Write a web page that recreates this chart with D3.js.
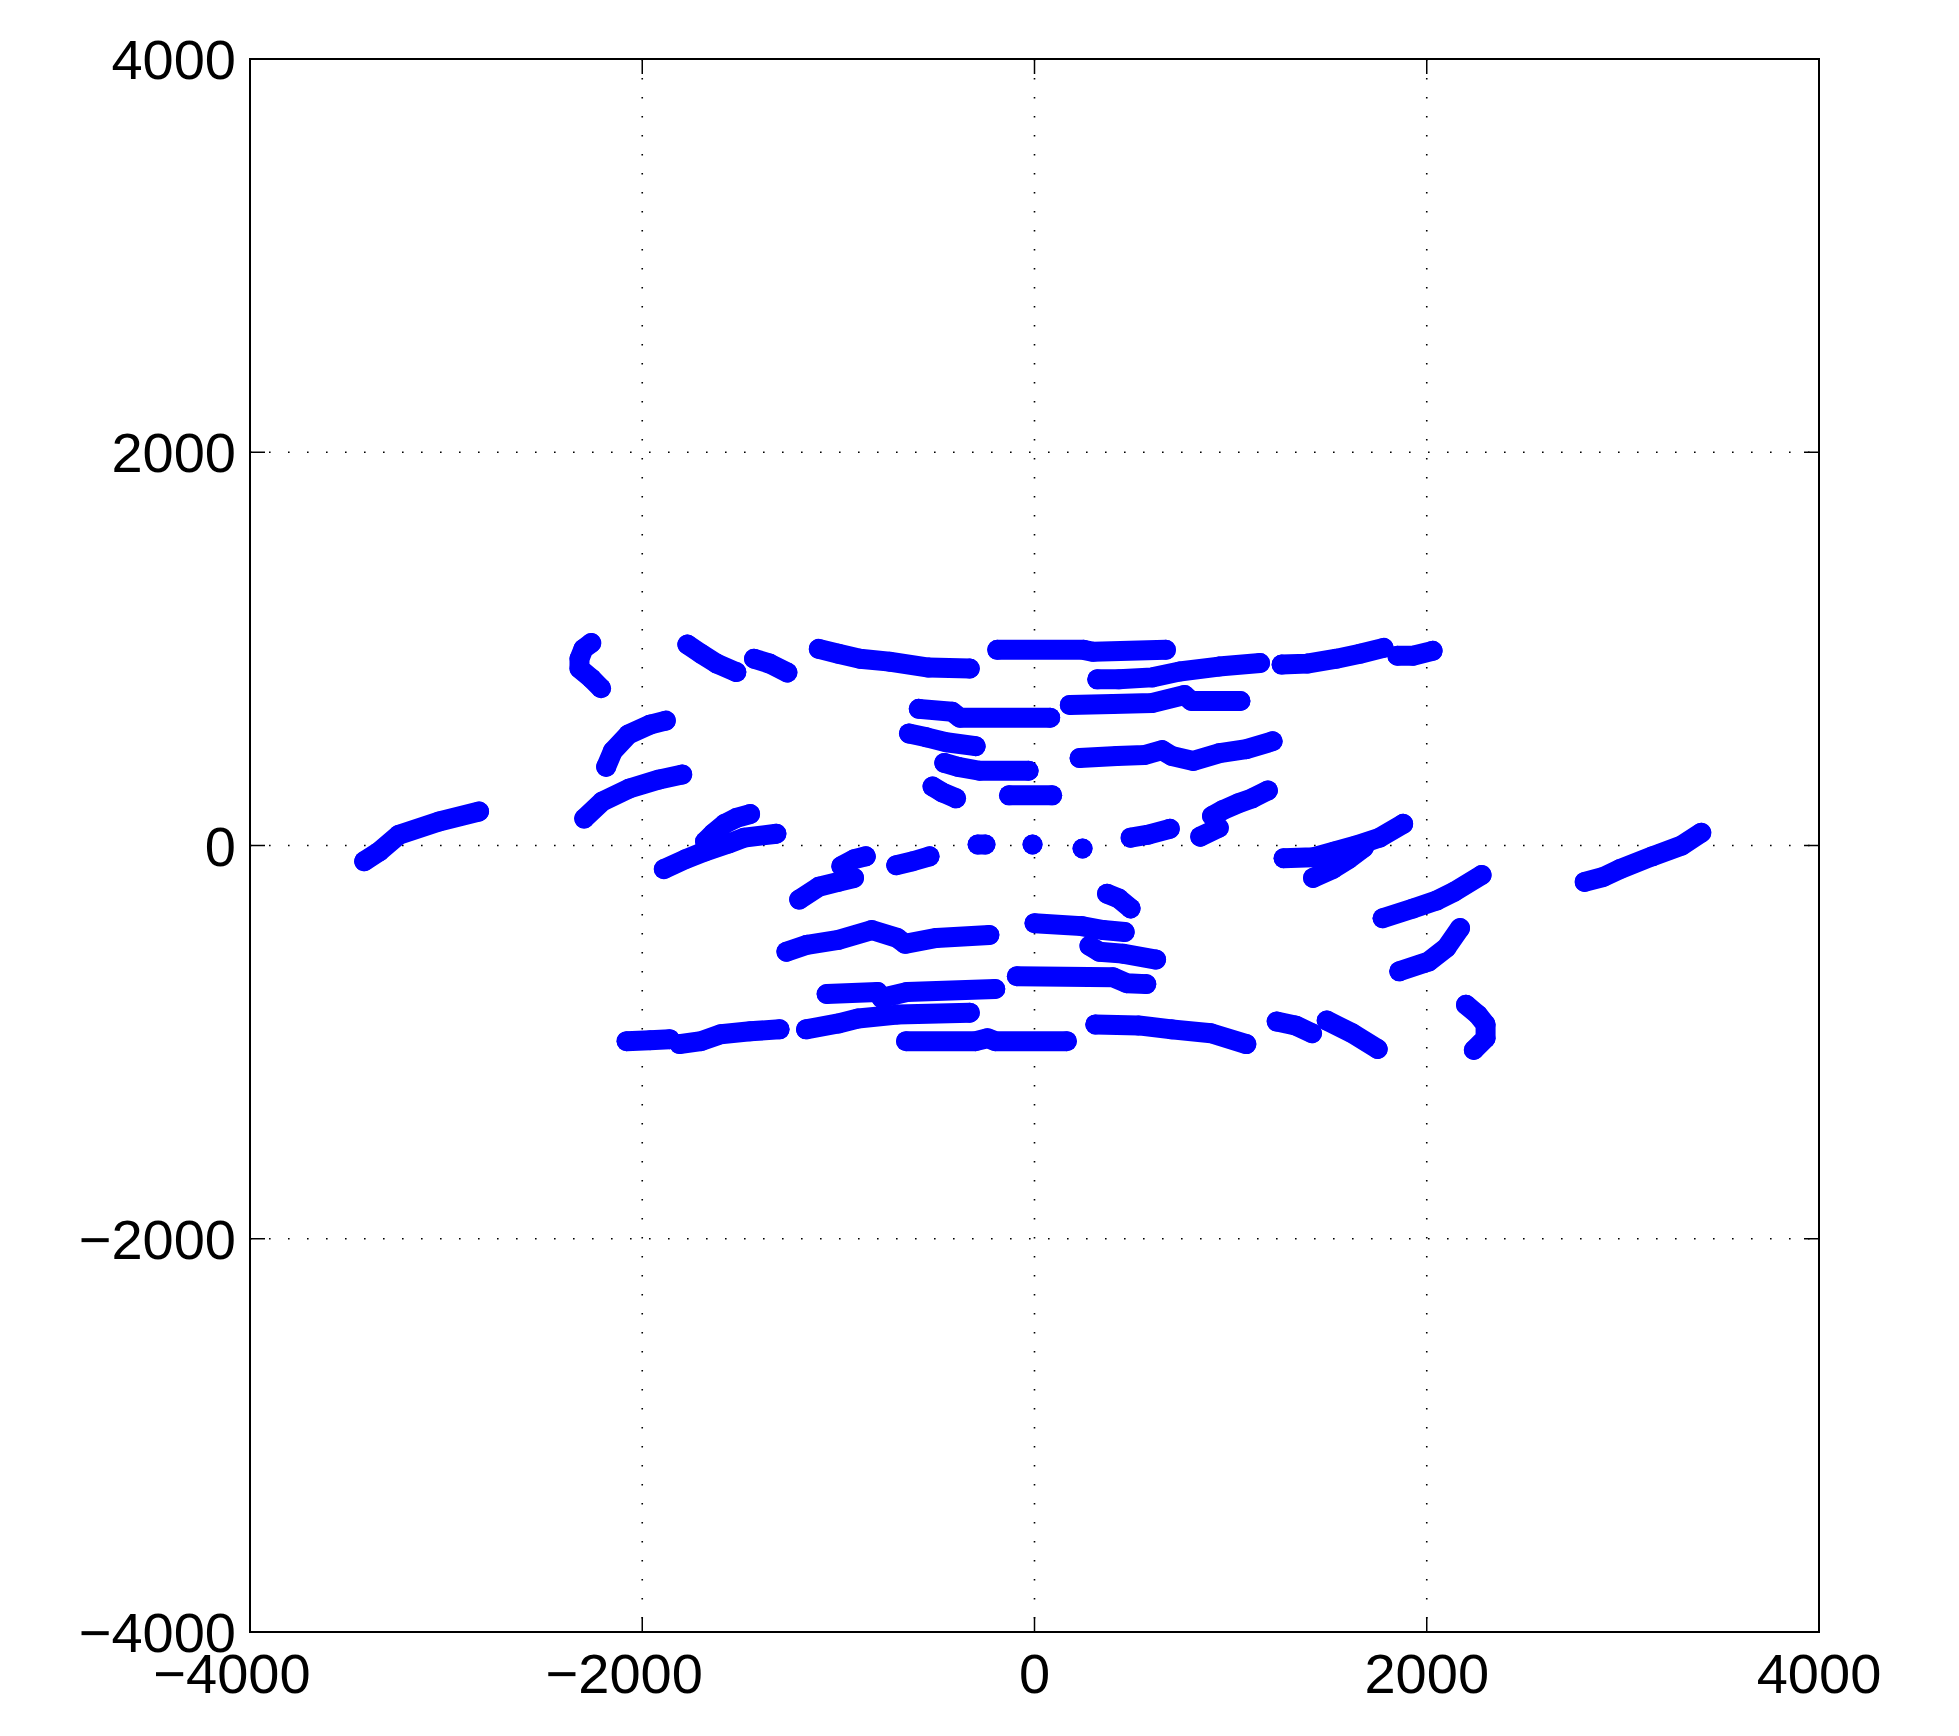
<!DOCTYPE html>
<html>
<head>
<meta charset="utf-8">
<script src="https://d3js.org/d3.v7.min.js"></script>
<style>
  body { margin: 0; background: #fff; }
  text { font-family: "Liberation Sans", Arial, Helvetica, sans-serif; }
</style>
</head>
<body>
<div id="my_dataviz"></div>
<script>

// tick values for both axes
var xTicks = [-4000, -2000, 0, 2000, 4000];
var yTicks = [-4000, -2000, 0, 2000, 4000];

// traces, each one a list of [x, y] points
var arcsLeft = [
  [[-3418, -80], [-3340, -30], [-3240, 55], [-3036, 122], [-2832, 173]],
  [[-2260, 1030], [-2300, 1000], [-2320, 950], [-2320, 900], [-2260, 850], [-2210, 800]],
  [[-2184, 400], [-2150, 480], [-2070, 565], [-1960, 615], [-1880, 635]],
  [[-2296, 137], [-2204, 224], [-2066, 290], [-1913, 336], [-1796, 361]],
  [[-1770, 1022], [-1700, 975], [-1620, 925], [-1520, 882]],
  [[-1430, 950], [-1350, 925], [-1260, 880]],
  [[-1890, -120], [-1780, -70], [-1680, -30], [-1560, 10], [-1480, 40], [-1316, 60]],
  [[-1680, 20], [-1640, 60], [-1580, 110], [-1520, 140], [-1450, 160]],
  [[-1200, -275], [-1100, -210], [-1000, -185], [-920, -165]],
  [[-985, -105], [-920, -70], [-860, -55]],
  [[-705, -100], [-620, -80], [-535, -55]]
];

var barsUpper = [
  [[-1100, 1000], [-1000, 975], [-890, 950], [-740, 935], [-540, 905], [-330, 900]],
  [[-190, 995], [250, 995], [300, 985], [670, 995]],
  [[320, 845], [430, 845], [600, 855], [740, 885], [940, 910], [1150, 928]],
  [[1260, 920], [1390, 925], [1540, 950], [1660, 975], [1780, 1005]],
  [[1850, 965], [1930, 965], [2030, 990]],
  [[-590, 695], [-420, 680], [-380, 650], [80, 650]],
  [[180, 715], [400, 720], [600, 725], [765, 765], [800, 735], [1050, 735]],
  [[-640, 570], [-550, 550], [-450, 525], [-300, 505]],
  [[-460, 420], [-390, 400], [-280, 380], [-30, 380]],
  [[230, 445], [420, 455], [560, 460], [650, 485], [700, 455], [810, 430], [944, 470], [1080, 490], [1214, 530]],
  [[-520, 300], [-470, 270], [-400, 240]],
  [[-130, 255], [90, 255]]
];

var centerDots = [
  [[-290, 5], [-250, 5]],
  [[-10, 5]],
  [[245, -15]]
];

var barsLower = [
  [[-1265, -540], [-1160, -505], [-1000, -480], [-830, -430], [-700, -470], [-660, -500], [-500, -470], [-230, -455]],
  [[-1060, -755], [-800, -745], [-780, -775], [-650, -745], [-200, -730]],
  [[-1165, -935], [-1000, -905], [-900, -880], [-700, -860], [-330, -850]],
  [[-655, -995], [-300, -995], [-240, -980], [-200, -995], [165, -995]],
  [[-2080, -995], [-1960, -990], [-1860, -985]],
  [[-1810, -1010], [-1700, -995], [-1600, -960], [-1450, -945], [-1300, -935]],
  [[0, -395], [240, -410], [350, -430], [460, -440]],
  [[-90, -665], [400, -670], [470, -700], [570, -705]],
  [[280, -510], [330, -540], [450, -550], [620, -580]],
  [[370, -245], [430, -270], [490, -320]],
  [[310, -910], [530, -915], [700, -935], [900, -955], [1080, -1010]],
  [[1235, -895], [1330, -915], [1415, -955]],
  [[1490, -890], [1620, -955], [1750, -1035]]
];

var arcsRight = [
  [[490, 40], [580, 55], [690, 85]],
  [[845, 45], [940, 90]],
  [[905, 150], [960, 180], [1040, 215], [1110, 240], [1190, 280]],
  [[1270, -65], [1420, -60], [1530, -30], [1640, 0], [1760, 40], [1880, 110]],
  [[1420, -165], [1520, -120], [1600, -70], [1680, -10]],
  [[1775, -370], [1930, -320], [2050, -280], [2140, -235], [2280, -150]],
  [[1860, -640], [2010, -590], [2100, -520], [2170, -420]],
  [[2200, -810], [2260, -860], [2300, -910], [2300, -980], [2240, -1040]],
  [[2805, -185], [2900, -160], [2985, -120], [3150, -55], [3300, 0], [3400, 65]]
];

var traces = [].concat(arcsLeft, barsUpper, centerDots, barsLower, arcsRight);

// layout
var W = 1959, H = 1736;
var margin = {top: 59, right: 140, bottom: 104, left: 250},
    width = W - margin.left - margin.right,
    height = H - margin.top - margin.bottom;
var dotR = 10;

var svg = d3.select("#my_dataviz")
  .append("svg")
    .attr("width", W)
    .attr("height", H);

var x = d3.scaleLinear().domain([-4000, 4000]).range([margin.left, margin.left + width]);
var y = d3.scaleLinear().domain([-4000, 4000]).range([margin.top + height, margin.top]);

// dotted grid
var grid = svg.append("g");
grid.selectAll("line.gx")
  .data(xTicks.slice(1, -1))
  .enter().append("line")
    .attr("x1", d => x(d)).attr("x2", d => x(d))
    .attr("y1", y(4000)).attr("y2", y(-4000))
    .attr("stroke", "#000").attr("stroke-width", 1.6)
    .attr("stroke-dasharray", "1.6,17.4");
grid.selectAll("line.gy")
  .data(yTicks.slice(1, -1))
  .enter().append("line")
    .attr("y1", d => y(d)).attr("y2", d => y(d))
    .attr("x1", x(-4000)).attr("x2", x(4000))
    .attr("stroke", "#000").attr("stroke-width", 1.6)
    .attr("stroke-dasharray", "1.6,17.4");

// the traces: dense markers drawn as thick round lines plus dots
var line = d3.line().x(d => x(d[0])).y(d => y(d[1]));
var marks = svg.append("g");
marks.selectAll("path")
  .data(traces)
  .enter().append("path")
    .attr("d", line)
    .attr("fill", "none")
    .attr("stroke", "#0000ff")
    .attr("stroke-width", dotR * 2)
    .attr("stroke-linecap", "round")
    .attr("stroke-linejoin", "round");
marks.selectAll("circle")
  .data(traces.flat())
  .enter().append("circle")
    .attr("cx", d => x(d[0]))
    .attr("cy", d => y(d[1]))
    .attr("r", dotR)
    .attr("fill", "#0000ff");

// axes box and inward ticks
var tickLen = 15;
var axes = svg.append("g");
axes.append("rect")
  .attr("x", x(-4000)).attr("y", y(4000))
  .attr("width", width).attr("height", height)
  .attr("fill", "none").attr("stroke", "#000").attr("stroke-width", 2);

axes.selectAll("line.tb")
  .data(xTicks)
  .enter().append("line")
    .attr("x1", d => x(d)).attr("x2", d => x(d))
    .attr("y1", y(-4000)).attr("y2", y(-4000) - tickLen)
    .attr("stroke", "#000").attr("stroke-width", 1.5);
axes.selectAll("line.tt")
  .data(xTicks)
  .enter().append("line")
    .attr("x1", d => x(d)).attr("x2", d => x(d))
    .attr("y1", y(4000)).attr("y2", y(4000) + tickLen)
    .attr("stroke", "#000").attr("stroke-width", 1.5);
axes.selectAll("line.tl")
  .data(yTicks)
  .enter().append("line")
    .attr("y1", d => y(d)).attr("y2", d => y(d))
    .attr("x1", x(-4000)).attr("x2", x(-4000) + tickLen)
    .attr("stroke", "#000").attr("stroke-width", 1.5);
axes.selectAll("line.tr")
  .data(yTicks)
  .enter().append("line")
    .attr("y1", d => y(d)).attr("y2", d => y(d))
    .attr("x1", x(4000)).attr("x2", x(4000) - tickLen)
    .attr("stroke", "#000").attr("stroke-width", 1.5);

// tick labels
var fmt = d => (d < 0 ? "\u2212" : "") + Math.abs(d);
axes.selectAll("text.xl")
  .data(xTicks)
  .enter().append("text")
    .attr("x", d => x(d) + (d < 0 ? -18 : 0))
    .attr("y", 1693)
    .attr("text-anchor", "middle")
    .style("font-size", "56px")
    .text(fmt);
axes.selectAll("text.yl")
  .data(yTicks)
  .enter().append("text")
    .attr("x", 236)
    .attr("y", d => y(d))
    .attr("dy", "0.36em")
    .attr("text-anchor", "end")
    .style("font-size", "56px")
    .text(fmt);

</script>
</body>
</html>
